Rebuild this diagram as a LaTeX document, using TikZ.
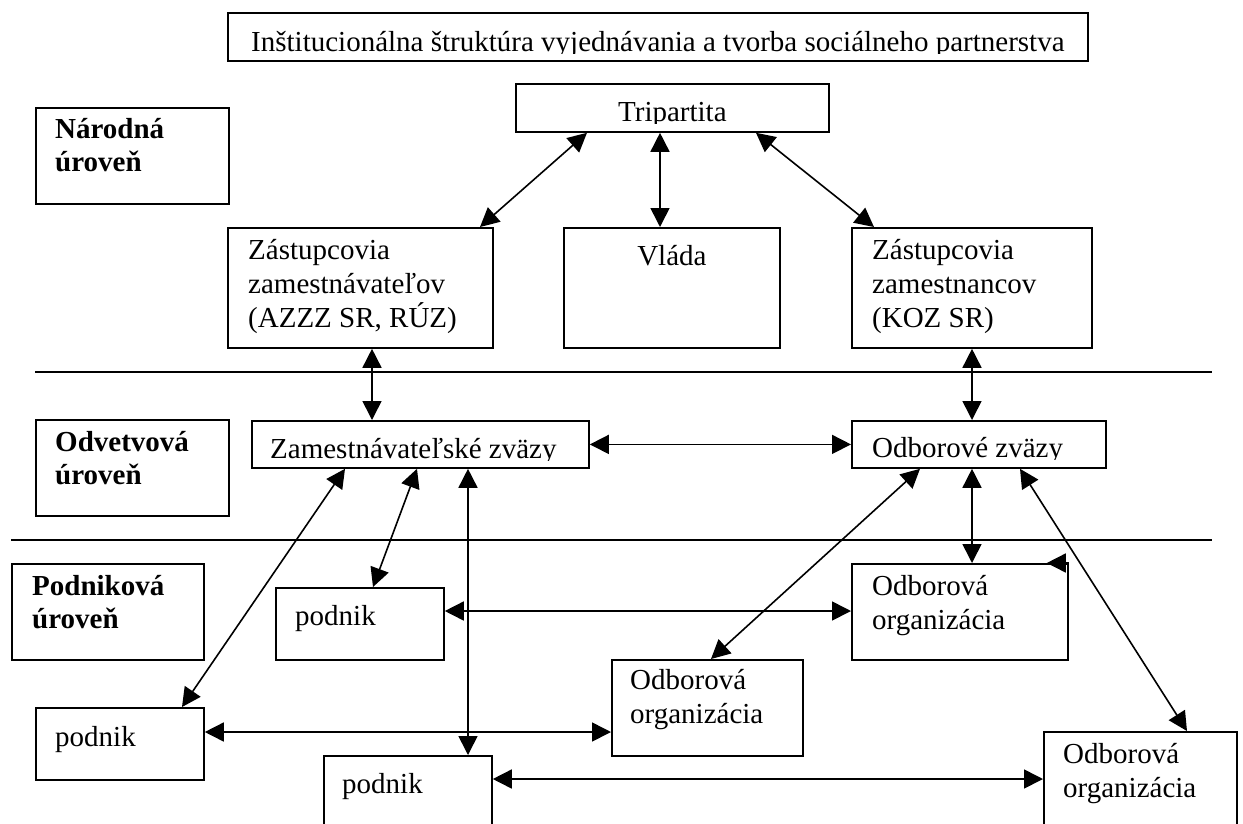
\documentclass[tikz,border=0pt]{standalone}
\usepackage{fontspec}
\setmainfont{Liberation Serif}
\usetikzlibrary{arrows.meta,positioning}

\tikzset{
  box/.style={draw,line width=1.8pt,anchor=north west,inner sep=0pt},
  txt/.style={font=\fontsize{29}{34}\selectfont,align=left,inner sep=0pt,
    execute at begin node={\rule{0pt}{26pt}}},
  lvl/.style={txt,font=\fontsize{29}{33}\selectfont\bfseries},
  arr/.style={{Triangle[length=19pt,width=19pt]}-{Triangle[length=19pt,width=19pt]},line width=1.6pt},
  sep/.style={line width=1.6pt}
}

\begin{document}
\begin{tikzpicture}[x=1pt,y=-1pt]
\useasboundingbox (0,0) rectangle (1243,823);
% boxes
\node[box,minimum width=860,minimum height=48](titel)at(227,12){};
\node[box,minimum width=313,minimum height=48](tri)at(515,83){};
\node[box,minimum width=193,minimum height=96](narodna)at(35,107){};
\node[box,minimum width=265,minimum height=120](zast1)at(227,227){};
\node[box,minimum width=216,minimum height=120](vlada)at(563,227){};
\node[box,minimum width=240,minimum height=120](zast2)at(851,227){};
\node[box,minimum width=193,minimum height=96](odvetvova)at(35,419){};
\node[box,minimum width=337,minimum height=47](zamz)at(251,420){};
\node[box,minimum width=254,minimum height=47](odbz)at(851,420){};
\node[box,minimum width=192,minimum height=96](podnikova)at(11,563){};
\node[box,minimum width=168,minimum height=72](pod1)at(275,587){};
\node[box,minimum width=216,minimum height=96](org1)at(851,563){};
\node[box,minimum width=191,minimum height=96](org2)at(611,659){};
\node[box,minimum width=168,minimum height=72](pod2)at(35,707){};
\node[box,minimum width=168,minimum height=90](pod3)at(323,755){};
\node[box,minimum width=193,minimum height=110](org3)at(1043,731){};
% level separators
\draw[sep](35,372)--(1212,372);
\draw[sep](11,540)--(1212,540);
% texts
\begin{scope}
\clip(titel.north west)rectangle([yshift=8]titel.south east);
\node[txt,below=13pt of titel.north](titelt){Inštitucionálna štruktúra vyjednávania a tvorba sociálneho partnerstva};
\end{scope}
\begin{scope}
\clip(tri.north west)rectangle([yshift=9]tri.south east);
\node[txt,below=12pt of tri.north](trit){Tripartita};
\end{scope}
\begin{scope}
\clip(zamz.north west)rectangle([yshift=8]zamz.south east);
\node[txt,below right=12pt and 19pt of zamz.north west](zamzt){Zamestnávateľské zväzy};
\end{scope}
\begin{scope}
\clip(odbz.north west)rectangle([yshift=9]odbz.south east);
\node[txt,below right=11pt and 21pt of odbz.north west](odbzt){Odborové zväzy};
\end{scope}
\node[lvl,below right=11pt and 20pt of narodna.north west](narodnat){Národná\\úroveň};
\node[lvl,below right=12pt and 20pt of odvetvova.north west](odvetvovat){Odvetvová\\úroveň};
\node[lvl,below right=12pt and 21pt of podnikova.north west](podnikovat){Podniková\\úroveň};
\node[txt,below right=12pt and 21pt of zast1.north west](zast1t){Zástupcovia\\zamestnávateľov\\(AZZZ SR, RÚZ)};
\node[txt,below=12pt of vlada.north](vladat){Vláda};
\node[txt,below right=12pt and 21pt of zast2.north west](zast2t){Zástupcovia\\zamestnancov\\(KOZ SR)};
\node[txt,below right=12pt and 20pt of pod1.north west](pod1t){podnik};
\node[txt,below right=12pt and 21pt of org1.north west](org1t){Odborová\\organizácia};
\node[txt,below right=10pt and 19pt of org2.north west](org2t){Odborová\\organizácia};
\node[txt,below right=13pt and 20pt of pod2.north west](pod2t){podnik};
\node[txt,below right=12pt and 19pt of pod3.north west](pod3t){podnik};
\node[txt,below right=12pt and 20pt of org3.north west](org3t){Odborová\\organizácia};
% national level
\draw[arr]([xshift=72]tri.south west)--([xshift=253]zast1.north west);
\draw[arr]([xshift=145]tri.south west)--([xshift=97]vlada.north west);
\draw[arr]([xshift=241]tri.south west)--([xshift=23]zast2.north west);
\draw[arr]([xshift=145]zast1.south west)--([xshift=121]zamz.north west);
\draw[arr]([xshift=121]zast2.south west)--([xshift=121]odbz.north west);
% sector level
\draw[arr](zamz.east)--(odbz.west);
\draw[arr]([xshift=94]zamz.south west)--([xshift=147]pod2.north west);
\draw[arr]([xshift=166]zamz.south west)--([xshift=98]pod1.north west);
\draw[arr]([xshift=217]zamz.south west)--([xshift=145]pod3.north west);
\draw[arr]([xshift=69]odbz.south west)--([xshift=100]org2.north west);
\draw[arr]([xshift=121]odbz.south west)--([xshift=121]org1.north west);
\draw[arr]([xshift=169]odbz.south west)--([xshift=144]org3.north west);
\draw[-{Triangle[length=19pt,width=19pt]},line width=1.6pt](org1.north east)--([xshift=-22]org1.north east);
% company level
\draw[arr]([yshift=-24]pod1.north east)--([yshift=-48]org1.north west);
\draw[arr]([yshift=-25]pod2.north east)--([yshift=-73]org2.north west);
\draw[arr]([yshift=-24]pod3.north east)--([yshift=-48]org3.north west);
\end{tikzpicture}
\end{document}
